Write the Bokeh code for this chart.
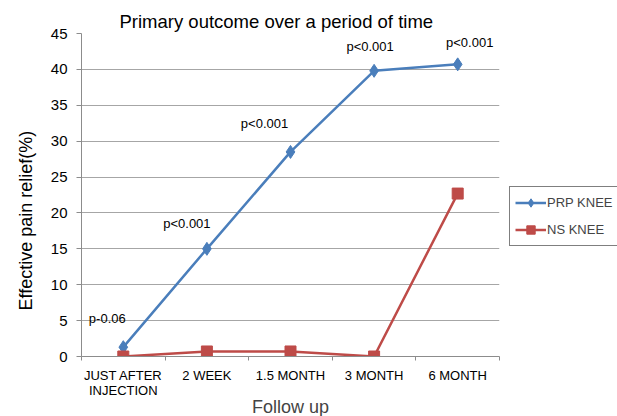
import numpy as np
from bokeh.plotting import figure
from bokeh.models import (ColumnDataSource, FixedTicker, Range1d, Legend, LegendItem,
                          Title, LinearAxis)
from bokeh.embed import file_html
from bokeh.resources import INLINE

categories = ["JUST AFTER\nINJECTION", "2 WEEK", "1.5 MONTH", "3 MONTH", "6 MONTH"]
prp_knee = [1.3, 15.0, 28.5, 39.8, 40.7]
ns_knee = [0.0, 0.7, 0.7, 0.0, 22.7]
p_labels = ["p-0.06", "p<0.001", "p<0.001", "p<0.001", "p<0.001"]
y_ticks = list(range(0, 50, 5))

# label placement offsets (screen px) relative to PRP points
label_dx = [-16, -20, -26, -4, 12]
label_dy = [-29, -25, -28, -24, -22]

FONT = "Liberation Sans"
BLUE = "#4a7ebb"
RED = "#be4b48"
GRID = "#a6a6a6"
AXIS = "#8c8c8c"

xs = np.arange(len(categories)) + 0.5

p = figure(frame_width=418, frame_height=323,
           x_range=Range1d(0, len(categories)), y_range=Range1d(0, 45),
           output_backend="svg", toolbar_location=None,
           min_border_left=81, min_border_right=0, min_border_top=33, min_border_bottom=58,
           x_axis_location=None, y_axis_location=None)
p.outline_line_color = None
p.background_fill_color = "white"

# axes
xaxis = LinearAxis(ticker=FixedTicker(ticks=list(xs), minor_ticks=list(range(len(categories) + 1))),
                   major_label_overrides={float(x): c for x, c in zip(xs, categories)})
xaxis.major_tick_line_color = None
xaxis.minor_tick_out = 4
xaxis.minor_tick_in = 0
xaxis.minor_tick_line_color = AXIS
xaxis.axis_line_color = AXIS
xaxis.major_label_text_font = FONT
xaxis.major_label_text_font_size = "13px"
xaxis.major_label_text_color = "black"
xaxis.major_label_text_line_height = 1.0
xaxis.major_label_standoff = 5
xaxis.axis_label = "Follow up"
xaxis.axis_label_text_font = FONT
xaxis.axis_label_text_font_size = "18px"
xaxis.axis_label_text_font_style = "normal"
xaxis.axis_label_standoff = -4
p.add_layout(xaxis, "below")

yaxis = LinearAxis(ticker=FixedTicker(ticks=y_ticks, minor_ticks=[]))
yaxis.axis_line_color = AXIS
yaxis.major_tick_line_color = AXIS
yaxis.major_tick_out = 5
yaxis.major_tick_in = 0
yaxis.major_label_text_font = FONT
yaxis.major_label_text_font_size = "15px"
yaxis.major_label_text_color = "black"
yaxis.major_label_standoff = 9
p.add_layout(yaxis, "left")

ylabel = Title(text="Effective pain relief(%)", align="left", offset=46,
               text_font=FONT, text_font_size="18px", text_font_style="normal",
               text_color="black", standoff=24)
p.add_layout(ylabel, "left")

p.xgrid.visible = False
p.ygrid.ticker = FixedTicker(ticks=y_ticks)
p.ygrid.grid_line_color = GRID
p.ygrid.grid_line_width = 1

title = Title(text="Primary outcome over a period of time", align="left", offset=38,
              text_font=FONT, text_font_size="18.5px", text_font_style="normal",
              text_color="black", standoff=3)
p.add_layout(title, "above")

src = ColumnDataSource(dict(x=xs, prp=prp_knee, ns=ns_knee, lab=p_labels,
                            dx=label_dx, dy=label_dy))

l1 = p.line("x", "prp", source=src, line_color=BLUE, line_width=2.5)
m1 = p.scatter("x", "prp", source=src, marker="diamond", size=13, fill_color=BLUE, line_color=BLUE)
l2 = p.line("x", "ns", source=src, line_color=RED, line_width=2.5)
m2 = p.scatter("x", "ns", source=src, marker="square", size=11, fill_color=RED, line_color=RED)

p.text("x", "prp", text="lab", source=src, x_offset="dx", y_offset="dy",
       text_font_size="13px", text_align="center", text_baseline="middle",
       text_color="black", text_font={"value": FONT})

legend = Legend(items=[LegendItem(label="PRP KNEE", renderers=[l1, m1]),
                       LegendItem(label="NS KNEE", renderers=[l2, m2])],
                location=(10, 110), orientation="vertical")
legend.label_text_font = FONT
legend.label_text_font_size = "13px"
legend.border_line_color = "black"
legend.border_line_width = 1
legend.padding = 5
legend.spacing = 6
legend.glyph_width = 31
legend.glyph_height = 21
legend.label_height = 21
legend.label_standoff = 1
legend.margin = 0
legend.background_fill_alpha = 1
p.add_layout(legend, "right")

html = file_html(p, INLINE)
open("out.html", "w").write(html)
